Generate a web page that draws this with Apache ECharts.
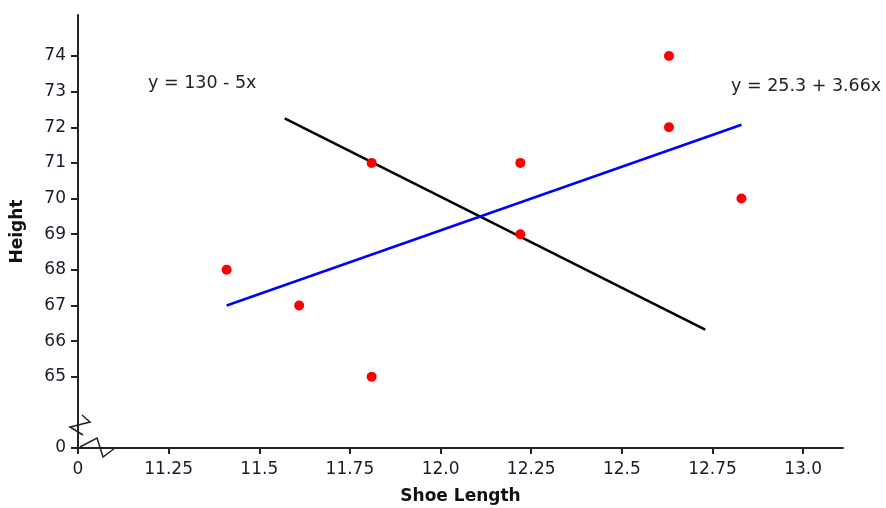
<!DOCTYPE html>
<html>
<head>
<meta charset="utf-8">
<script src="https://cdn.jsdelivr.net/npm/echarts@6/dist/echarts.min.js"></script>
<style>html,body{margin:0;padding:0;background:#fff;}#c{width:886px;height:508px;}</style>
</head>
<body>
<div id="c"></div>
<script>
// Data
const shoeLength = [11.41, 11.61, 11.81, 11.81, 12.22, 12.22, 12.63, 12.63, 12.83];
const height     = [68, 67, 65, 71, 71, 69, 74, 72, 70];
const blueLineX  = [11.41, 12.83];
const blueLineY  = [67.0, 72.07];
const blackLineX = [11.57, 12.73];
const blackLineY = [72.25, 66.32];
const xTicks = [11.0, 11.25, 11.5, 11.75, 12.0, 12.25, 12.5, 12.75, 13.0];
const xTickLabels = ['0', '11.25', '11.5', '11.75', '12.0', '12.25', '12.5', '12.75', '13.0'];
const yTicks = [63, 65, 66, 67, 68, 69, 70, 71, 72, 73, 74];
const yTickLabels = ['0', '65', '66', '67', '68', '69', '70', '71', '72', '73', '74'];
const eqLeft = 'y = 130 - 5x';
const eqRight = 'y = 25.3 + 3.66x';

const FONT = 'DejaVu Sans';
const chart = echarts.init(document.getElementById('c'), null, {renderer: 'canvas'});
const pts = shoeLength.map((x, i) => [x, height[i]]);
const blue = blueLineX.map((x, i) => [x, blueLineY[i]]);
const black = blackLineX.map((x, i) => [x, blackLineY[i]]);

chart.setOption({
  animation: false,
  backgroundColor: '#ffffff',
  grid: {left: 78, right: 43, top: 15, bottom: 60, containLabel: false, outerBoundsMode: 'none'},
  xAxis: {
    type: 'value', min: 11, max: 13.11,
    splitLine: {show: false},
    axisLine: {lineStyle: {color: '#222', width: 2}},
    axisTick: {show: true, length: 6, lineStyle: {color: '#222', width: 2}, customValues: xTicks},
    axisLabel: {
      customValues: xTicks, margin: 13, color: '#1a1a2e', fontFamily: FONT, fontSize: 17,
      formatter: v => { const i = xTicks.findIndex(t => Math.abs(t - v) < 1e-6); return i >= 0 ? xTickLabels[i] : ''; }
    },
    name: 'Shoe Length', nameLocation: 'middle', nameGap: 40,
    nameTextStyle: {fontFamily: FONT, fontSize: 17, fontWeight: 'bold', color: '#111'}
  },
  yAxis: {
    type: 'value', min: 63, max: 75.15,
    splitLine: {show: false},
    axisLine: {lineStyle: {color: '#222', width: 2}},
    axisTick: {show: true, length: 7, lineStyle: {color: '#222', width: 2}, customValues: yTicks},
    axisLabel: {
      customValues: yTicks, margin: 12, color: '#1a1a2e', fontFamily: FONT, fontSize: 17,
      formatter: v => { const i = yTicks.findIndex(t => Math.abs(t - v) < 1e-6); return i >= 0 ? yTickLabels[i] : ''; }
    },
    name: 'Height', nameLocation: 'middle', nameGap: 52, nameRotate: 90,
    nameTextStyle: {fontFamily: FONT, fontSize: 17, fontWeight: 'bold', color: '#111'}
  },
  series: [
    {type: 'line', data: black, showSymbol: false, lineStyle: {color: '#000', width: 2.5}, z: 2},
    {type: 'line', data: blue, showSymbol: false, lineStyle: {color: '#0000ff', width: 2.5}, z: 3},
    {type: 'scatter', data: pts, symbol: 'circle', symbolSize: 10, itemStyle: {color: '#ff0000', opacity: 1}, z: 4}
  ]
});

const o = chart.convertToPixel({gridIndex: 0}, [11, 63]);
const ox = o[0], oy = o[1];
chart.setOption({
  graphic: [
    {type: 'polyline', shape: {points: [[ox+4, oy-33], [ox+12, oy-26], [ox-8, oy-21], [ox+5, oy-13]]},
     style: {stroke: '#222', lineWidth: 1.5, fill: null}, z: 10},
    {type: 'polyline', shape: {points: [[ox+2, oy-1], [ox+19, oy-10], [ox+25, oy+9], [ox+37, oy]]},
     style: {stroke: '#222', lineWidth: 1.5, fill: null}, z: 10},
    {type: 'text', left: 148, top: 74, style: {text: eqLeft, font: '17.5px "DejaVu Sans"', fill: '#222'}},
    {type: 'text', left: 731, top: 77, style: {text: eqRight, font: '17.5px "DejaVu Sans"', fill: '#222'}}
  ]
});
</script>
</body>
</html>
